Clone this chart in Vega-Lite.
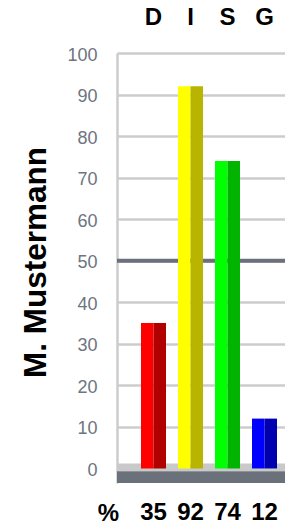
{
  "$schema": "https://vega.github.io/schema/vega-lite/v6.json",
  "autosize": {"type": "none"},
  "width": 168,
  "height": 430,
  "padding": {"left": 117, "top": 53, "right": 0, "bottom": 42},
  "background": "white",
  "config": {"view": {"stroke": null}, "font": "Liberation Sans"},
  "datasets": {
    "bars": [
      {"letter": "D", "half": "a", "tone": "D1", "value": 35},
      {"letter": "D", "half": "b", "tone": "D2", "value": 35},
      {"letter": "I", "half": "a", "tone": "I1", "value": 92},
      {"letter": "I", "half": "b", "tone": "I2", "value": 92},
      {"letter": "S", "half": "a", "tone": "S1", "value": 74},
      {"letter": "S", "half": "b", "tone": "S2", "value": 74},
      {"letter": "G", "half": "a", "tone": "G1", "value": 12},
      {"letter": "G", "half": "b", "tone": "G2", "value": 12}
    ],
    "scores": [
      {"letter": "D", "value": 35},
      {"letter": "I", "value": 92},
      {"letter": "S", "value": 74},
      {"letter": "G", "value": 12}
    ]
  },
  "resolve": {"axis": {"x": "independent"}},
  "layer": [
    {
      "data": {"values": [{}]},
      "mark": {"type": "rect", "color": "#c9c9c9"},
      "encoding": {
        "y": {"datum": 1.2, "type": "quantitative", "scale": {"domain": [-3.5, 100], "nice": false, "zero": false},
          "axis": {"values": [0, 10, 20, 30, 40, 50, 60, 70, 80, 90, 100], "title": "M. Mustermann", "titleFontSize": 31.5, "titleFontWeight": "bold", "titleColor": "#000000", "titlePadding": 14, "titleY": 209,
            "labelFontSize": 18, "labelColor": "#6e7480", "labelPadding": 20, "labelOffset": 2, "ticks": false,
            "domainColor": "#cccccc", "domainWidth": 2.5, "grid": true, "gridColor": "#cccccc", "gridWidth": 2.5}},
        "y2": {"datum": -0.7}
      }
    },
    {
      "data": {"values": [{}]},
      "mark": {"type": "rect", "color": "#6b717a"},
      "encoding": {
        "y": {"datum": -0.7, "type": "quantitative"},
        "y2": {"datum": -3.5}
      }
    },
    {
      "data": {"values": [{}]},
      "mark": {"type": "rule", "color": "#6b717a", "strokeWidth": 4},
      "encoding": {"y": {"datum": 50, "type": "quantitative"}}
    },
    {
      "data": {"name": "bars"},
      "mark": {"type": "bar"},
      "encoding": {
        "x": {"field": "letter", "type": "nominal", "sort": ["D", "I", "S", "G"],
          "scale": {"paddingInner": 0.3243, "paddingOuter": 0.4324, "align": 0.75},
          "axis": {"orient": "top", "title": null, "labelAngle": 0, "labelFontSize": 24, "labelFontWeight": "bold", "labelColor": "#000000", "labelPadding": 24, "ticks": false, "domain": false}},
        "xOffset": {"field": "half", "type": "nominal", "scale": {"paddingInner": 0, "paddingOuter": 0}},
        "y": {"field": "value", "type": "quantitative"},
        "color": {"field": "tone", "type": "nominal", "legend": null,
          "scale": {"domain": ["D1", "D2", "I1", "I2", "S1", "S2", "G1", "G2"],
            "range": ["#ff0000", "#b00000", "#ffff00", "#b8b400", "#00ff00", "#00b400", "#0000ff", "#0000b0"]}}
      }
    },
    {
      "data": {"name": "scores"},
      "mark": {"type": "text", "fontSize": 24, "fontWeight": "bold", "color": "#000000", "baseline": "middle"},
      "encoding": {
        "x": {"field": "letter", "type": "nominal", "sort": ["D", "I", "S", "G"],
          "axis": {"orient": "bottom", "labels": false, "ticks": false, "domain": false, "title": "%", "titleFontSize": 24, "titleFontWeight": "bold", "titleColor": "#000000", "titleX": -9, "titleY": 30, "titleBaseline": "middle", "titleAlign": "center"}},
        "y": {"datum": -10.8, "type": "quantitative"},
        "text": {"field": "value", "type": "quantitative"}
      }
    }
  ]
}
